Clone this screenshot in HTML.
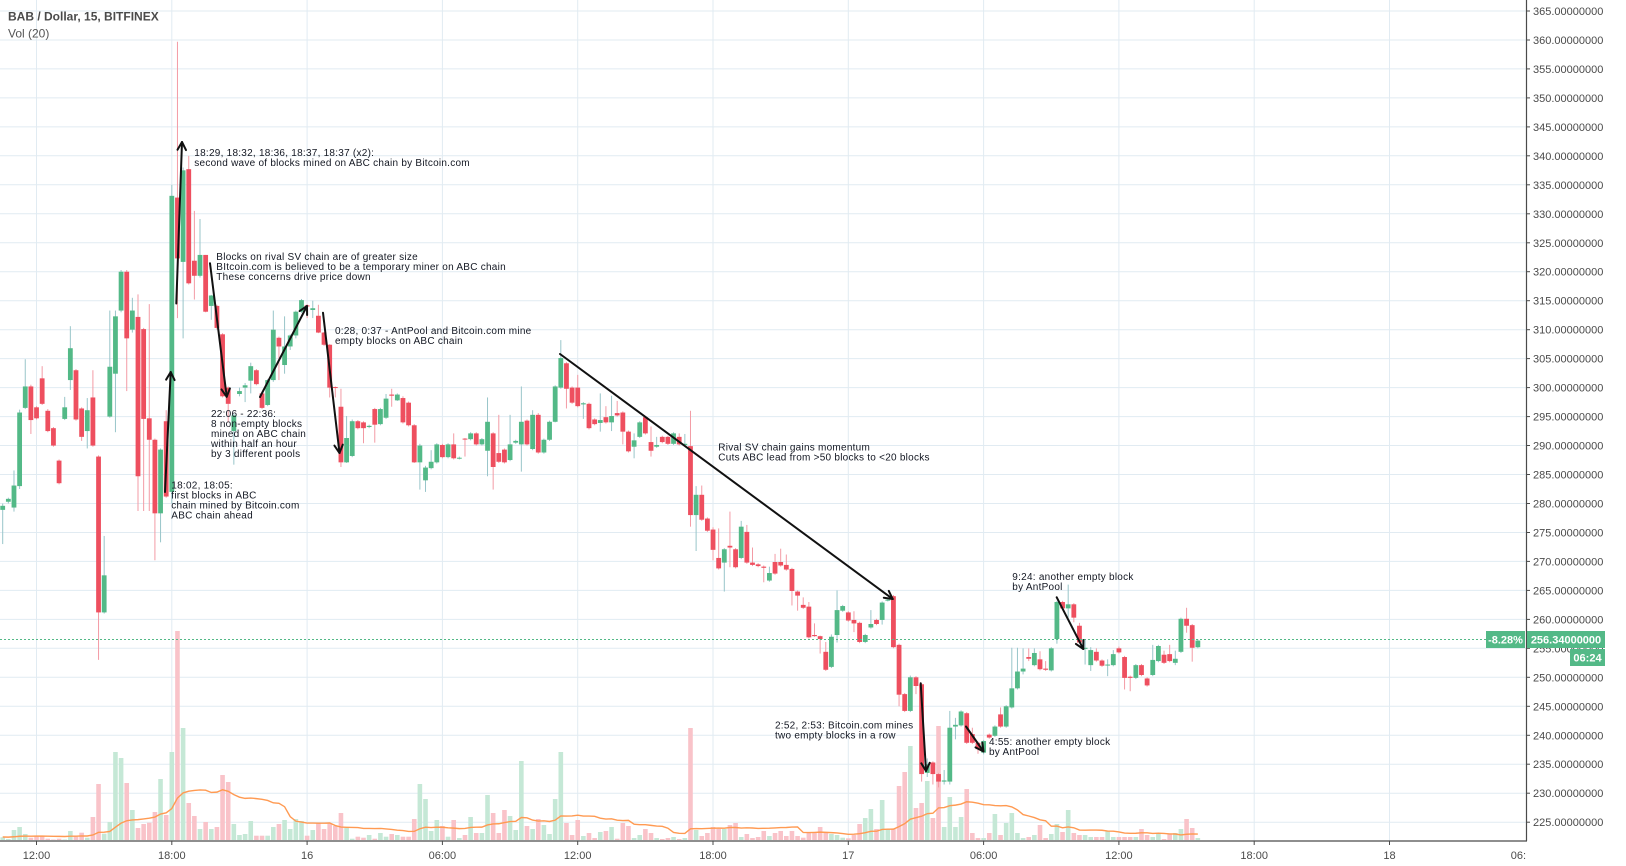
<!DOCTYPE html>
<html><head><meta charset="utf-8"><style>
html,body{margin:0;padding:0;background:#fff;}
body{width:1626px;height:866px;overflow:hidden;}
svg{display:block;font-family:"Liberation Sans",Arial,sans-serif;}
.an{font-size:10px;fill:#131722;letter-spacing:0.25px;}
.yl{font-size:11px;fill:#4a4a4a;}
.xl{font-size:11px;fill:#4a4a4a;text-anchor:middle;}
</style></head><body>
<svg id="s" width="1626" height="866" viewBox="0 0 1626 866">
<defs><clipPath id="cp"><rect x="0" y="0" width="1526" height="841"/></clipPath></defs>
<rect x="0" y="0" width="1626" height="866" fill="#fff"/>
<g id="grid" stroke="#e1ebf2" stroke-width="1"></g>
<g clip-path="url(#cp)">
<g id="vol"></g>
<path id="ma" fill="none" stroke="#ff9a52" stroke-width="1.4"/>
<g id="cdl"></g>
<line x1="0" y1="639.5" x2="1486" y2="639.5" stroke="#53b987" stroke-width="1" stroke-dasharray="2,2"/>
</g>
<g id="arr" stroke="#111" stroke-width="2" fill="none" stroke-linecap="round" stroke-linejoin="round"></g>
<g>
<text class="an" x="194.3" y="156">18:29, 18:32, 18:36, 18:37, 18:37 (x2):</text>
<text class="an" x="194.3" y="166">second wave of blocks mined on ABC chain by Bitcoin.com</text>
<text class="an" x="216.3" y="260">Blocks on rival SV chain are of greater size</text>
<text class="an" x="216.3" y="270">BItcoin.com is believed to be a temporary miner on ABC chain</text>
<text class="an" x="216.3" y="280">These concerns drive price down</text>
<text class="an" x="335" y="334">0:28, 0:37 - AntPool and Bitcoin.com mine</text>
<text class="an" x="335" y="344">empty blocks on ABC chain</text>
<text class="an" x="211" y="417">22:06 - 22:36:</text>
<text class="an" x="211" y="427">8 non-empty blocks</text>
<text class="an" x="211" y="437">mined on ABC chain</text>
<text class="an" x="211" y="447">within half an hour</text>
<text class="an" x="211" y="457">by 3 different pools</text>
<text class="an" x="171.3" y="488.5">18:02, 18:05:</text>
<text class="an" x="171.3" y="498.5">first blocks in ABC</text>
<text class="an" x="171.3" y="508.5">chain mined by Bitcoin.com</text>
<text class="an" x="171.3" y="518.5">ABC chain ahead</text>
<text class="an" x="718.3" y="450.7">Rival SV chain gains momentum</text>
<text class="an" x="718.3" y="460.7">Cuts ABC lead from &gt;50 blocks to &lt;20 blocks</text>
<text class="an" x="775" y="728.5">2:52, 2:53: Bitcoin.com mines</text>
<text class="an" x="775" y="738.5">two empty blocks in a row</text>
<text class="an" x="989" y="745">4:55: another empty block</text>
<text class="an" x="989" y="755">by AntPool</text>
<text class="an" x="1012.3" y="580">9:24: another empty block</text>
<text class="an" x="1012.3" y="590">by AntPool</text>
</g>
<text x="8" y="20.7" font-size="12" font-weight="bold" fill="#4a4a4a">BAB / Dollar, 15, BITFINEX</text>
<text x="8" y="37.7" font-size="12" fill="#555">Vol (20)</text>
<line x1="1526.5" y1="0" x2="1526.5" y2="841" stroke="#4a4a4a" stroke-width="1.2"/>
<line x1="0" y1="841" x2="1527" y2="841" stroke="#4a4a4a" stroke-width="1.2"/>
<g id="yax"></g>
<g id="xax"></g>
<rect x="1486" y="631" width="39" height="17" fill="#53b987"/>
<text x="1505.5" y="643.5" font-size="11" font-weight="bold" fill="#fff" text-anchor="middle">-8.28%</text>
<rect x="1527" y="631" width="78" height="17" fill="#53b987"/>
<text x="1566" y="643.5" font-size="11" font-weight="bold" fill="#fff" text-anchor="middle">256.34000000</text>
<rect x="1570" y="649" width="35" height="17" fill="#53b987"/>
<text x="1587.5" y="661.5" font-size="11" font-weight="bold" fill="#fff" text-anchor="middle">06:24</text>
</svg>
<script>
const D=[[278.9,279.6,280,273],[280.3,280.8,281,280],[279.3,283.1,285.7,278.6],[283,295.7,296.2,282.5],[296.5,300.2,304.9,296.3],[300.2,294.4,300.5,292],[296.6,294.7,296.8,294.5],[301.6,297.2,303.7,297],[296,292.5,296.3,292.3],[293,290,293.2,289.8],
[287.4,283.5,287.6,283.3],[294.6,296.6,298.4,294.4],[301.3,306.8,310.6,299.6],[303,294.5,303.2,294.3],[296.4,291.5,296.6,290.8],[292.5,296.1,298.2,289.5],[298.3,290,303,289.8],[288.1,261.2,288.3,253],[261.2,267.6,274.4,261],[295,303.6,313.3,294.8],
[302.4,312.3,313.3,292.3],[313.3,320,320.3,313],[320,308.5,320.3,299.4],[310,313.3,315.5,309.5],[312.2,284.7,316.1,278.7],[310.1,294.6,310.3,278.7],[294.7,291,314.4,278.7],[291,278.3,291.2,270.2],[278.3,289.3,289.5,273.3],[294.2,281.2,296.1,281],
[282,333.1,335,280],[332.8,322.3,359.7,312],[321.7,337.5,338,308.5],[337.7,318,340,317.8],[321.9,319.3,330.5,315.2],[319.3,322.9,329.1,319],[322.9,313.1,322.9,313],[314.1,315.9,316,311.7],[314.1,310.3,314.3,310],[309.2,298.5,309.4,298.3],
[300,297.2,300.2,294],[292.5,295.2,295.5,286.7],[298.9,299.4,300,298.5],[300,300.4,300.8,297.5],[301.2,303.7,304.3,299],[303,300.6,303.2,300.4],[299,296.5,299.3,296.3],[297,301.3,301.5,296.8],[301.3,310,313.3,301],[308.6,307.1,308.8,301.3],
[303.9,307.1,312.3,302.4],[307.1,309,309.2,306.5],[309,313.1,313.3,308.5],[313.1,315.1,315.3,312.9],[314.2,314,314.4,312],[313.4,313.7,315,312],[312.4,309.5,314.3,309.4],[309.5,307.4,309.6,307.2],[307.4,300,307.5,298.3],[300.1,300,300.2,298.3],
[296.7,287.1,299.8,286.3],[287.1,291.3,295.1,287],[288.2,294.2,294.5,288],[294.2,293,294.4,292.8],[294,293,294.2,290.4],[293.2,293.4,293.6,293],[296.3,293.6,296.5,290.5],[293.7,296.3,296.5,293.5],[294.8,298.1,298.9,294.6],[298.8,298.6,299.8,296.7],
[297.8,298.8,299,297.7],[298.2,294,298.5,293.8],[297.4,293.5,297.6,293.3],[293.5,287.1,293.7,287],[287.1,290,290.3,282.4],[284,286.2,286.5,282],[286.1,287.2,289.2,285.9],[287.1,290.2,290.4,286.9],[290.1,288,290.3,287.8],[288,290.2,290.4,287.8],
[290.2,287.8,292.1,287.6],[287.8,287.9,288.1,287.6],[291.2,291.1,291.3,288.1],[291.1,292.1,292.3,290.9],[292.1,290.2,292.3,290],[290.2,291.1,291.3,290],[289.1,294.1,298.3,284.7],[292.1,286.3,292.3,282.4],[288.7,287.2,295.3,287],[289.3,287.1,289.5,286.9],
[287.5,290.2,295.3,287.3],[290.5,290.8,291,290.3],[290.2,294.1,300.2,285.5],[294.3,290.2,294.5,290],[289.4,295.3,296.1,289.2],[295.3,288.8,295.6,288.6],[288.8,291,291.2,288.6],[291,294.1,294.3,290.8],[294.1,300.2,300.4,294],[300,305.1,308.2,299.8],
[304.2,299.8,304.4,296.4],[300,297.4,300.2,297.2],[300,296.8,302.2,296.6],[297.1,297.3,297.5,294.6],[297.2,293,297.4,292.8],[294.5,293.7,294.7,293.5],[293.9,294.4,299,292.4],[294.9,294,296.8,293.8],[294,295.1,298.6,292.5],[295.6,295.2,297.7,295],
[295.7,292.4,295.9,290.2],[292.4,289,292.6,288.8],[289.8,290.9,292.1,287.8],[291.5,294,294.2,291.3],[294.9,292.1,295.1,291.9],[290.6,289.1,293.3,288.1],[289.8,290.1,291.5,289.6],[291.5,290.6,291.7,290.4],[291.5,290.3,291.7,290.1],[290.3,292.1,292.3,290.1],
[291.5,290.2,292.1,290],[290.1,290.3,292,289.9],[289.9,278,296,276],[278,281.5,283,271.8],[281.5,277.2,283.1,277],[277.4,275.3,277.6,275.1],[275.5,272,275.9,270.2],[270.6,268.8,275.7,268.6],[269.8,272.1,272.3,264.8],[272.7,272.4,278.6,269],
[272.1,269,272.3,268.8],[270.6,276,277,270.4],[275.1,269.8,276.3,269.6],[269.8,269.4,272.4,269.2],[269.5,269.2,269.7,269],[269.1,268.9,269.3,266.4],[266.7,268,269.1,266.5],[269.9,267.9,271.3,267.7],[269.9,269.3,272.2,269.1],[269.4,268.6,271.2,268.4],
[268.7,264.9,268.9,262.4],[264.8,264.1,265,261.5],[262.5,262,263.8,261.8],[262.2,256.9,263,256.7],[257.3,257.1,259.3,257],[257.1,256.6,257.2,254.1],[254.4,251.3,256.1,251.1],[251.8,257,257.4,251.6],[257.3,261.6,265,256],[261.5,262.3,262.5,261.3],
[261.2,259.8,261.4,259.6],[259.9,259.3,261.4,257.8],[259.4,256.1,259.6,255.9],[256.1,257.3,257.5,255.9],[258.6,259.2,261.6,258.4],[259.9,259.2,260.1,259],[259.9,262.9,263.1,259.1],[263.3,263.4,263.6,263.1],[264,255.2,264.2,255],[255.6,247,255.8,245],
[247.1,244.2,247.3,244],[244.2,250,250.3,244],[250,248.5,250.2,247.1],[248.8,233.3,249,232],[233.5,235,236,232.8],[235.3,233.3,235.5,231.5],[233.3,232,233.5,231],[232,232.2,234,231.5],[232,241.3,244.2,231.5],[241.5,241.8,243,239.3],
[241.7,244.1,244.3,241.5],[243.8,238.7,244,238.5],[240.2,238.7,241.3,238.5],[238.7,237.6,238.9,236.8],[237,239,239.2,236.7],[240.1,239.6,240.3,239.4],[239.9,241.5,241.7,239.7],[243.6,241.5,244.8,241.3],[241.5,245,245.2,241.3],[244.8,248.1,255.1,244.6],
[248.1,251,255.1,247.9],[251,251.5,255,250.5],[253.5,253.2,255,252.8],[252.1,254.2,255,251.9],[253.1,251.4,254.5,251.2],[251.5,251.3,252.8,251.1],[251.2,255,255.2,251],[256.6,263,263.2,255.8],[263,261.9,263.2,261.7],[261.9,262.6,266,260.3],
[262.6,260.3,262.8,259.5],[258.9,256,259.4,255.8],[254.9,255.1,256.6,252.2],[252.1,254.7,255.2,251.1],[254.4,252.9,255,252.7],[252.9,252,253.1,251.8],[252.1,252.2,253.1,250.2],[252.1,254,254.7,251.9],[255,254.3,255.3,254.1],[253.5,249.9,253.7,247.9],
[250.1,249.9,250.3,247.6],[249.9,252.1,252.3,249.7],[252.1,250.4,252.3,250.2],[249.8,248.6,250,248.4],[250.4,253,255.6,250.2],[252.8,255.4,255.6,252.6],[253.9,252.5,254.6,252.3],[254,252.8,255.6,252.6],[252.5,253.2,254.6,252.1],[254.4,260.1,260.3,254.2],
[260.1,258.9,262,257.7],[259,255.1,259.2,252.7],[255.2,256.34,256.6,255]];
const V=[2.7,1,10,13,6,2.3,3.3,4.3,1.3,0.5,1.3,0.5,9,3.3,7.3,2.3,23,56,6.3,18,88,82,57,30,12,16,17.3,28,61,25,88,209,112,37,24,11,18,11,13,65,58,16,5,6,19,4.3,4.3,4.3,13,16,20,11,21,19,4.3,10,17,11,16,14,27,12,1.3,3.3,2.3,5,1.3,7,3.3,6,5,3.3,3.3,21,56,41,9,20,14,3.3,20,2,5,23,7,7,45,27,7,30,24,10,79,14,11,21,15,6,41,88,17,5,20,4,7,2,8,9,13,1.3,17,14,2,5,11,7,2,1,2,3,1,2,112,10,4,7,13,11,11,15,17,3,6,2,3,9,4,7,9,4,9,4,2.3,7.7,7.7,13,7.7,6,5,2.3,1.7,5,16,22,31,11,40,11,11,54,68,94,32,37,59,22,114,13,43,13,23,51,7,2,2,7,26,5,17,27,7,2,3,5,15,2,6,16,8,30,7,5,5,3,3,3,9,3,3,3,3,3,11,5,3,7,1,6,7,11,21,12,2];
const X=i=>2.7+5.6375*i, Y=p=>11+(365-p)*5.794;
const G='#53b987',R='#ee4f5f',GW='#98c5c9',RW='#f39ba5',GV='#c5e8d6',RV='#f9c3c9';
let cs='',vs='',ma='';
for(let i=0;i<D.length;i++){
 const [o,c,h,l]=D[i]; const up=c>=o; const x=X(i);
 cs+=`<line x1="${x.toFixed(2)}" y1="${Y(h).toFixed(2)}" x2="${x.toFixed(2)}" y2="${Y(l).toFixed(2)}" stroke="${up?GW:RW}" stroke-width="1"/>`;
 const yt=Y(Math.max(o,c)), hh=Math.max(1,Math.abs(Y(o)-Y(c)));
 cs+=`<rect x="${(x-2.4).toFixed(2)}" y="${yt.toFixed(2)}" width="4.8" height="${hh.toFixed(2)}" fill="${up?G:R}"/>`;
 const v=V[i]||1;
 vs+=`<rect x="${(x-2.3).toFixed(2)}" y="${(840-v).toFixed(2)}" width="4.6" height="${v}" fill="${up?GV:RV}"/>`;
 let s=0; for(let k=i-19;k<=i;k++){s+=(k<0?3:(V[k]||1));}
 const m=s/20; ma+=(i?'L':'M')+x.toFixed(2)+','+(840-m).toFixed(2);
}
document.getElementById('cdl').innerHTML=cs;
document.getElementById('vol').innerHTML=vs;
document.getElementById('ma').setAttribute('d',ma);
let gs='',ys='',xs='';
for(let k=0;k<=28;k++){const p=365-5*k,y=Y(p);
 gs+=`<line x1="0" y1="${y.toFixed(1)}" x2="1526" y2="${y.toFixed(1)}"/>`;
 ys+=`<line x1="1526" y1="${y.toFixed(1)}" x2="1530" y2="${y.toFixed(1)}" stroke="#4a4a4a"/><text class="yl" x="1533" y="${(y+4).toFixed(1)}">${p}.00000000</text>`;}
const XL=['12:00','18:00','16','06:00','12:00','18:00','17','06:00','12:00','18:00','18'];
for(let k=0;k<12;k++){const x=36.5+135.3*k;
 if(k<11){gs+=`<line x1="${x.toFixed(1)}" y1="0" x2="${x.toFixed(1)}" y2="841"/>`;
 xs+=`<line x1="${x.toFixed(1)}" y1="841" x2="${x.toFixed(1)}" y2="845" stroke="#4a4a4a"/><text class="xl" x="${x.toFixed(1)}" y="859">${XL[k]}</text>`;}}
xs+=`<text class="yl" x="1526" y="859" text-anchor="end">06:</text>`;
document.getElementById('grid').innerHTML=gs;
document.getElementById('yax').innerHTML=ys;
document.getElementById('xax').innerHTML=xs;
const A=[[165,492,170.7,372],[176.3,303.5,182,142],[210,263.3,226.7,396.8],[260,397,307,306],[323,312.7,339.5,453],[560,354,892.7,599],[920.7,683.3,926,771],[966,726.5,983.5,751.5],[1056.7,597.3,1083.3,649]];
let as='';
for(const [sx,sy,tx,ty] of A){
 const dx=tx-sx,dy=ty-sy,L=Math.hypot(dx,dy),ux=-dx/L,uy=-dy/L,a=0.49,c=Math.cos(a),s=Math.sin(a),W=9;
 const w1x=tx+W*(ux*c-uy*s),w1y=ty+W*(ux*s+uy*c),w2x=tx+W*(ux*c+uy*s),w2y=ty+W*(-ux*s+uy*c);
 as+=`<line x1="${sx}" y1="${sy}" x2="${tx}" y2="${ty}"/><polyline points="${w1x.toFixed(1)},${w1y.toFixed(1)} ${tx},${ty} ${w2x.toFixed(1)},${w2y.toFixed(1)}"/>`;
}
document.getElementById('arr').innerHTML=as;
</script>
</body></html>
